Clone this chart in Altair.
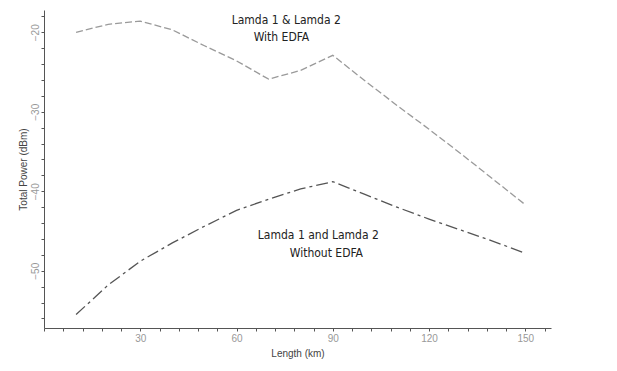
import altair as alt
import pandas as pd

length_km = [10, 20, 30, 40, 50, 60, 70, 80, 90, 100, 110, 120, 130, 140, 150]
with_edfa = [-20.0, -19.0, -18.6, -19.7, -21.7, -23.6, -25.9, -24.8, -22.9, -26.1, -29.2, -32.2, -35.3, -38.5, -41.7]
without_edfa = [-55.5, -51.8, -48.8, -46.5, -44.4, -42.4, -41.0, -39.7, -38.8, -40.4, -42.0, -43.5, -44.9, -46.3, -47.8]

label_text = ["Lamda 1 & Lamda 2", "With EDFA", "Lamda 1 and Lamda 2", "Without EDFA"]
label_x = [75.5, 74.0, 85.5, 88.0]
label_y = [-18.5, -20.6, -45.5, -47.8]

x_ticks = list(range(0, 157, 6))
y_ticks = list(range(-56, -17, 2))

df_top = pd.DataFrame({"x": length_km, "y": with_edfa})
df_bot = pd.DataFrame({"x": length_km, "y": without_edfa})
df_lab = pd.DataFrame({"t": label_text, "x": label_x, "y": label_y})

xs = alt.Scale(domain=[0, 158], nice=False, zero=False)
ys = alt.Scale(domain=[-57.2, -17.2], nice=False, zero=False)

xax = alt.Axis(values=x_ticks, tickCount=200, format="d",
               labelExpr="datum.value % 30 == 0 && datum.value > 0 ? datum.label : ''",
               labelOverlap=False, grid=False, tickSize=3, domainColor="#555", tickColor="#555",
               labelColor="#999", labelFontSize=10, labelPadding=2,
               title="Length (km)", titleFontSize=10, titleFontWeight="normal",
               titleColor="#444", titlePadding=5, labelFont="Liberation Sans", titleFont="Liberation Sans")
yax = alt.Axis(values=y_ticks, tickCount=200, format="d",
               labelExpr="datum.value % 10 == 0 ? datum.label : ''",
               labelOverlap=False, grid=False, tickSize=3, domainColor="#555", tickColor="#555",
               labelColor="#999", labelFontSize=10, labelAngle=-90, labelAlign="center",
               labelBaseline="bottom", labelPadding=1,
               title="Total Power (dBm)", titleFontSize=10, titleFontWeight="normal",
               titleColor="#444", titlePadding=2, labelFont="Liberation Sans", titleFont="Liberation Sans")

top = alt.Chart(df_top).mark_line(color="#9a9a9a", strokeWidth=1.3, strokeDash=[7, 3]).encode(
    x=alt.X("x:Q", scale=xs, axis=xax), y=alt.Y("y:Q", scale=ys, axis=yax))
bot = alt.Chart(df_bot).mark_line(color="#555555", strokeWidth=1.3, strokeDash=[12, 4, 3, 4]).encode(
    x=alt.X("x:Q", scale=xs, axis=xax), y=alt.Y("y:Q", scale=ys, axis=yax))
labels = alt.Chart(df_lab).mark_text(font="Liberation Sans Narrow, DejaVu Sans Condensed, sans-serif",
                                     fontSize=12, color="#222").encode(
    x=alt.X("x:Q", scale=xs, axis=xax), y=alt.Y("y:Q", scale=ys, axis=yax), text="t:N")

chart = alt.layer(top, bot, labels).properties(
    width=507, height=318,
    background="white",
    autosize=alt.AutoSizeParams(type="none"),
    padding={"left": 36, "top": 2, "right": 58, "bottom": 35},
).configure_view(stroke=None)

chart.save("out.html", embed_options={"renderer": "svg", "actions": False})
